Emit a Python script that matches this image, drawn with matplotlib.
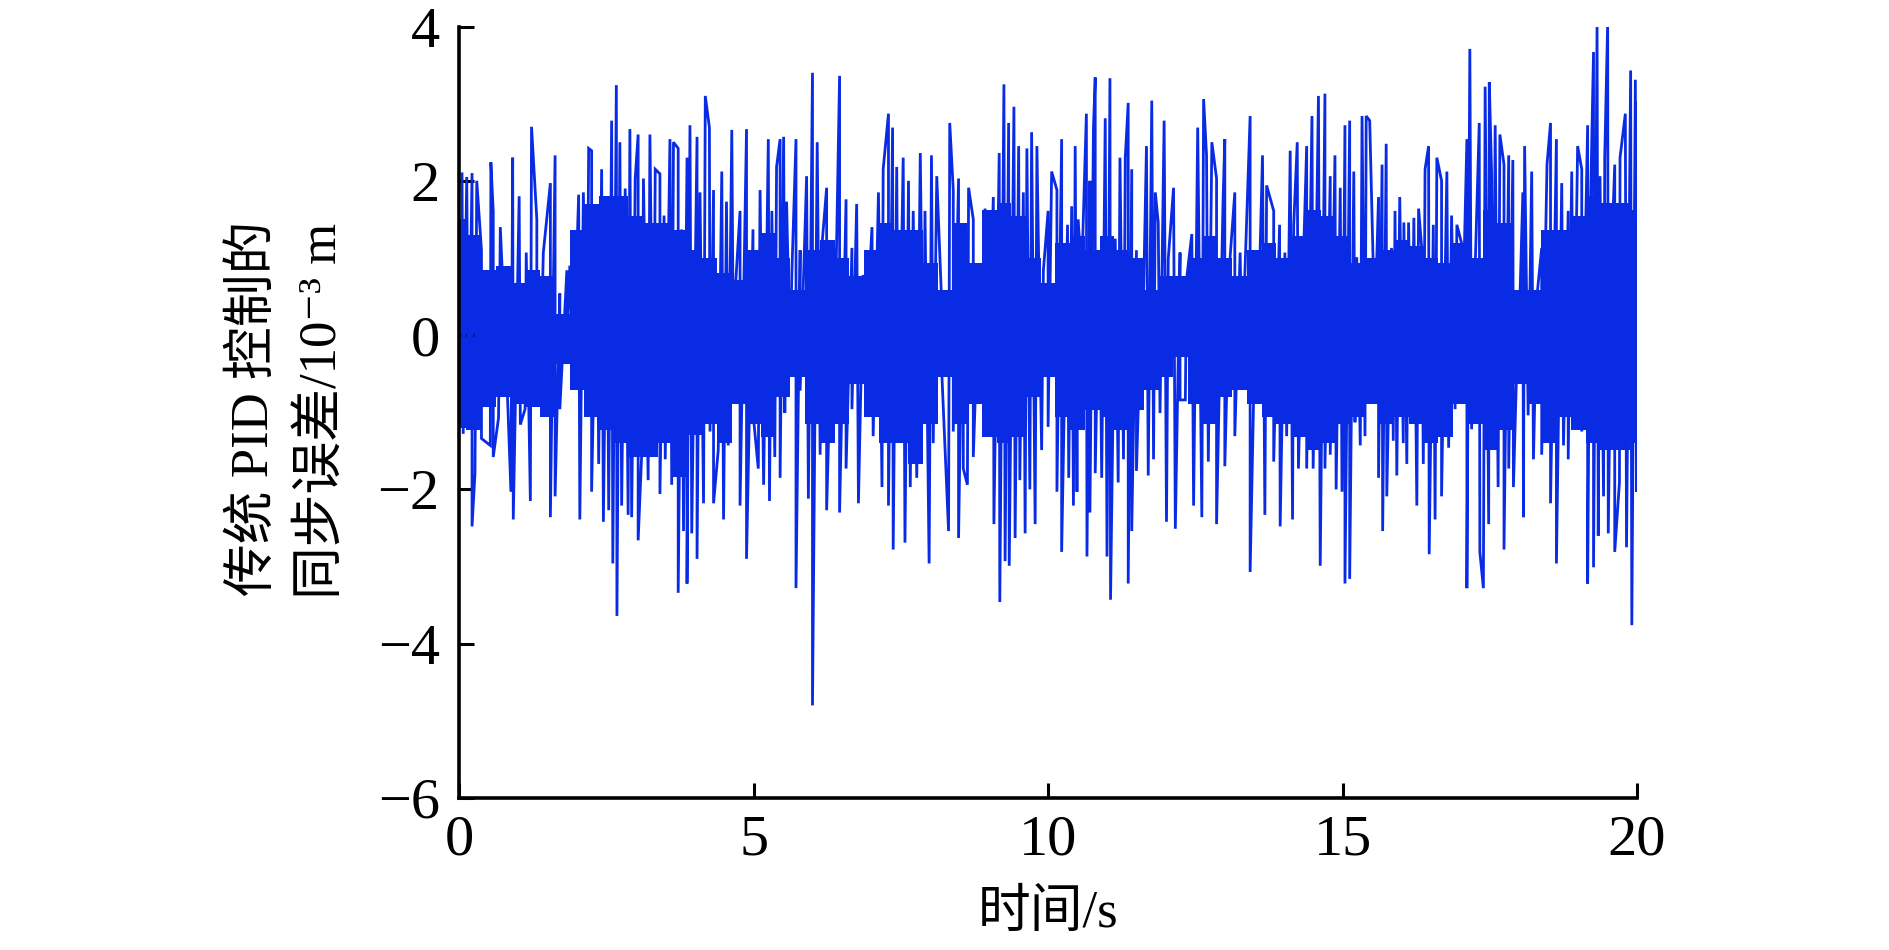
import numpy as np
import matplotlib
matplotlib.use("Agg")
import matplotlib.pyplot as plt

plt.rcParams['font.family'] = ['Liberation Serif', 'Noto Sans CJK SC', 'DejaVu Sans']

# 上侧尖峰 (时间 s, 误差 1e-3 m)
hi_t = [0.05, 0.13, 0.22, 0.30, 0.38, 0.54, 0.58, 0.70, 0.91, 1.02, 1.14, 1.23, 1.32, 1.43, 1.55, 1.63,
        1.71, 1.83, 1.88, 2.03, 2.11, 2.20, 2.25, 2.34, 2.42, 2.51, 2.59, 2.67, 2.73, 2.82, 2.90, 2.99,
        3.04, 3.13, 3.24, 3.33, 3.41, 3.48, 3.58, 3.64, 3.72, 3.78, 3.87, 3.92, 4.04, 4.09, 4.18, 4.25,
        4.32, 4.46, 4.54, 4.63, 4.69, 4.77, 4.88,
        4.99, 5.11, 5.25, 5.31, 5.39, 5.45, 5.51, 5.56, 5.65, 5.72, 5.79, 5.90, 6.00, 6.08, 6.16, 6.24,
        6.36, 6.46, 6.57, 6.67, 6.75, 6.86, 7.01, 7.12, 7.20, 7.29, 7.36, 7.43, 7.54, 7.63, 7.71, 7.83,
        7.91, 8.02, 8.11, 8.19, 8.33, 8.39, 8.48, 8.56, 8.65, 8.73, 8.83, 8.93, 9.07, 9.17, 9.25, 9.33,
        9.42, 9.50, 9.58, 9.64, 9.72, 9.81, 9.92, 10.00,
        10.06, 10.15, 10.23, 10.33, 10.40, 10.46, 10.51, 10.57, 10.65, 10.71, 10.77, 10.80, 10.87, 10.97,
        11.05, 11.14, 11.22, 11.31, 11.36, 11.42, 11.50, 11.59, 11.67, 11.76, 11.82, 11.87, 11.97, 12.04,
        12.13, 12.24, 12.35, 12.44, 12.54, 12.64, 12.69, 12.78, 12.86, 12.97, 13.00, 13.09, 13.17, 13.26,
        13.34, 13.43, 13.54, 13.64, 13.71, 13.83, 13.93, 14.02, 14.11, 14.17, 14.23, 14.34, 14.39, 14.48,
        14.59, 14.70, 14.79, 14.87, 14.96, 15.04, 15.12,
        15.19, 15.24, 15.33, 15.40, 15.46, 15.52, 15.61, 15.67, 15.74, 15.83, 15.89, 15.97, 16.04, 16.12,
        16.21, 16.29, 16.34, 16.40, 16.46, 16.54, 16.60, 16.68, 16.77, 16.85, 16.94, 17.02, 17.11, 17.16,
        17.24, 17.32, 17.42, 17.49, 17.53, 17.59, 17.67, 17.74, 17.82, 17.89, 17.98, 18.06, 18.09, 18.21,
        18.30, 18.38, 18.47, 18.53, 18.63, 18.72, 18.83, 18.89, 18.99, 19.06, 19.16, 19.20, 19.26, 19.32,
        19.37, 19.45, 19.50, 19.57, 19.62, 19.71, 19.80, 19.89, 19.97, 20.00]
hi_v = [2.09, 2.05, 2.10, 2.00, 1.10, 2.24, 1.60, 1.40, 2.30, 1.80, 1.07, 2.70, 1.50, 1.07, 1.97, 2.33,
        0.54, 0.84, 0.90, 1.82, 1.85, 2.42, 2.39, 1.50, 2.15, 1.50, 2.78, 3.24, 2.50, 1.90, 2.67, 2.03,
        2.60, 2.03, 2.60, 2.15, 2.09, 1.55, 2.54, 2.50, 2.42, 1.37, 2.30, 2.72, 2.57, 1.85, 3.10, 2.69,
        1.88, 2.12, 1.73, 2.66, 0.60, 1.61, 2.67,
        1.37, 1.88, 2.54, 1.61, 2.18, 2.54, 2.57, 1.73, 0.81, 2.54, 1.10, 2.06, 3.40, 2.50, 1.16, 1.91,
        1.13, 3.36, 1.76, 1.13, 1.70, 0.78, 1.40, 1.85, 2.15, 2.87, 2.69, 2.18, 2.30, 2.00, 1.61, 2.36,
        1.61, 2.33, 2.06, 0.48, 2.75, 1.88, 2.03, 1.43, 1.91, 1.50, 0.72, 1.64, 1.79, 2.36, 3.25, 2.75,
        2.96, 2.45, 1.85, 2.42, 2.63, 2.45, 0.84, 1.61,
        2.12, 1.88, 2.54, 1.43, 1.67, 2.45, 1.50, 0.78, 2.87, 2.00, 2.69, 3.34, 1.01, 2.81,
        3.33, 1.25, 2.30, 2.30, 3.01, 2.15, 1.10, 0.60, 2.45, 3.04, 1.85, 1.46, 2.78, 0.99,
        1.91, 1.07, 0.72, 1.31, 2.69, 3.06, 2.33, 2.50, 2.03, 1.73, 2.54, 1.01, 1.85, 1.07,
        0.78, 2.84, 1.10, 2.33, 1.94, 1.61, 1.43, 1.07, 2.39, 1.43, 2.50, 1.13, 2.45, 2.84,
        3.10, 3.13, 2.06, 2.33, 1.91, 2.72, 2.78,
        2.12, 1.01, 2.84, 2.84, 2.78, 0.90, 1.79, 2.21, 2.48, 1.13, 1.61, 1.79, 1.46, 1.46,
        1.52, 1.64, 1.16, 2.15, 2.45, 1.43, 2.30, 2.00, 2.12, 1.55, 1.43, 1.19, 2.54, 3.71,
        0.60, 2.75, 3.22, 3.28, 2.09, 2.72, 2.60, 2.21, 2.33, 2.27, 0.24, 1.85, 2.45, 2.12,
        0.51, 1.13, 2.21, 2.75, 2.54, 1.97, 1.61, 2.12, 2.45, 2.15, 2.72, 1.37, 3.67, 4.00,
        2.06, 2.30, 4.05, 1.13, 2.21, 2.30, 2.87, 3.43, 3.31, 3.01]

# 下侧尖峰
lo_t = [0.07, 0.16, 0.22, 0.27, 0.38, 0.53, 0.58, 0.67, 0.81, 0.88, 0.92, 1.04, 1.12, 1.21, 1.32, 1.38,
        1.55, 1.63, 1.71, 1.83, 1.94, 2.05, 2.17, 2.25, 2.37, 2.45, 2.54, 2.61, 2.68, 2.76, 2.87, 2.93,
        3.04, 3.10, 3.21, 3.30, 3.41, 3.50, 3.61, 3.72, 3.81, 3.87, 3.95, 4.04, 4.15, 4.26, 4.32, 4.40,
        4.49, 4.57, 4.66, 4.77, 4.88,
        4.99, 5.08, 5.17, 5.27, 5.36, 5.45, 5.53, 5.62, 5.72, 5.79, 5.93, 6.00, 6.13, 6.24, 6.36, 6.46,
        6.57, 6.67, 6.78, 6.89, 7.03, 7.18, 7.29, 7.37, 7.46, 7.57, 7.66, 7.77, 7.88, 7.98, 8.05, 8.19,
        8.31, 8.39, 8.48, 8.56, 8.63, 8.73, 8.83, 8.96, 9.08, 9.18, 9.27, 9.34, 9.44, 9.52, 9.61, 9.69,
        9.78, 9.89, 10.00,
        10.15, 10.23, 10.35, 10.43, 10.49, 10.66, 10.71, 10.80, 10.91, 11.00, 11.06, 11.19, 11.28, 11.36,
        11.42, 11.50, 11.59, 11.70, 11.79, 11.90, 12.01, 12.16, 12.24, 12.33, 12.47, 12.61, 12.72, 12.86,
        13.00, 13.17, 13.29, 13.43, 13.54, 13.68, 13.83, 13.94, 14.05, 14.15, 14.25, 14.39, 14.50, 14.62,
        14.70, 14.79, 14.89, 14.99, 15.04, 15.12,
        15.21, 15.30, 15.38, 15.52, 15.61, 15.68, 15.75, 15.86, 15.92, 16.03, 16.09, 16.17, 16.26, 16.37,
        16.47, 16.57, 16.68, 16.80, 16.91, 17.02, 17.11, 17.19, 17.33, 17.39, 17.48, 17.56, 17.64, 17.74,
        17.82, 17.90, 17.98, 18.07, 18.15, 18.24, 18.38, 18.53, 18.63, 18.75, 18.83, 18.92, 19.06, 19.16,
        19.26, 19.34, 19.43, 19.51, 19.62, 19.70, 19.82, 19.91, 19.99]
lo_v = [-1.28, -1.07, -2.48, -1.79, -1.34, -1.43, -1.58, -1.07, -0.54, -2.03, -2.39, -1.16, -0.96, -2.15, -0.87, -0.69,
        -2.36, -2.09, -0.96, -0.30, -0.42, -2.39, -0.96, -2.03, -1.67, -2.42, -2.27, -2.96, -3.64, -2.21, -2.33, -2.36,
        -2.66, -1.55, -1.88, -1.49, -2.06, -1.61, -1.94, -3.34, -2.54, -3.22, -2.57, -2.90, -2.18, -1.25, -2.18, -1.49,
        -2.39, -1.43, -0.72, -2.21, -2.90,
        -1.01, -1.73, -1.94, -2.15, -1.58, -1.85, -1.01, -0.30, -3.28, -0.72, -2.12, -4.80, -1.55, -2.27, -0.90, -2.30,
        -1.73, -0.96, -2.18, -0.36, -1.31, -1.97, -2.21, -2.78, -1.37, -2.69, -1.97, -1.85, -0.90, -2.96, -1.40, -0.39,
        -2.54, -1.25, -2.63, -1.73, -1.94, -1.58, -0.84, -1.07, -2.45, -3.46, -2.93, -2.99, -2.63, -1.88, -2.57, -2.00,
        -2.45, -1.49, -1.19,
        -2.03, -2.81, -1.85, -2.21, -2.03, -2.87, -2.30, -1.79, -1.85, -2.87, -3.43, -1.91, -1.61, -3.22,
        -2.54, -1.76, -0.66, -1.82, -1.61, -1.01, -2.42, -2.51, -0.84, -0.84, -2.21, -2.36, -1.64, -2.45,
        -1.70, -1.31, -0.24, -3.07, -0.72, -2.33, -1.64, -2.48, -1.31, -2.39, -1.73, -1.73, -1.73, -2.99,
        -1.73, -1.55, -2.00, -2.03, -3.22, -3.16,
        -1.13, -1.43, -1.31, -0.60, -1.85, -2.54, -2.09, -1.37, -1.82, -1.40, -1.67, -0.96, -2.21, -1.67,
        -2.84, -2.39, -2.09, -1.46, -0.96, -0.42, -3.28, -1.22, -2.81, -3.28, -2.45, -1.25, -1.97, -2.78,
        -1.73, -1.97, -0.36, -2.36, -1.04, -1.61, -1.55, -2.18, -2.96, -1.43, -1.61, -1.16, -1.25, -3.22,
        -3.01, -2.60, -2.09, -2.57, -2.81, -1.91, -2.75, -3.76, -2.03]

# 密集振荡区的上下包络，每 0.25 s 读一次
core_t = np.linspace(0, 20, 81)
core_hi = [1.50, 1.30, 0.84, 0.89, 0.67, 0.84, 0.76, 0.28, 1.36, 1.70, 1.80, 1.80,
           1.54, 1.45, 1.45, 1.36, 1.10, 1.00, 0.80, 0.71, 1.10, 1.32, 1.00, 0.58,
           1.10, 1.23, 1.00, 0.76, 1.10, 1.45, 1.36, 1.36, 0.93, 0.58, 1.45, 0.93,
           1.62, 1.71, 1.54, 1.00, 0.67, 1.19, 1.28, 1.10, 1.28, 1.10, 1.00, 0.58,
           0.76, 0.76, 1.00, 1.28, 1.00, 0.76, 1.10, 1.19, 1.00, 1.28, 1.62, 1.54,
           1.28, 0.93, 1.00, 1.10, 1.23, 1.15, 1.00, 0.93, 1.19, 1.00, 1.62, 1.45,
           0.58, 0.58, 1.36, 1.36, 1.54, 1.80, 1.71, 1.71, 1.62]
core_lo = [-1.20, -1.23, -0.93, -0.80, -0.89, -0.93, -1.06, -0.37, -0.71, -1.06, -1.23, -1.40,
           -1.58, -1.58, -1.40, -1.84, -1.30, -1.15, -1.40, -0.89, -1.15, -1.32, -0.80, -0.54,
           -1.15, -1.40, -1.15, -0.63, -1.06, -1.40, -1.40, -1.67, -1.15, -0.54, -1.15, -0.89,
           -1.32, -1.40, -1.32, -0.80, -0.54, -1.06, -1.23, -0.97, -1.06, -1.23, -0.97, -0.71,
           -0.54, -0.28, -0.89, -1.15, -0.80, -0.71, -0.89, -1.06, -1.15, -1.32, -1.49, -1.40,
           -1.15, -1.06, -0.89, -1.15, -1.06, -1.15, -1.40, -1.32, -0.89, -1.15, -1.49, -1.23,
           -0.63, -0.89, -1.40, -1.06, -1.23, -1.40, -1.49, -1.49, -1.40]

x_ticks = [0, 5, 10, 15, 20]
y_ticks = [-6, -4, -2, 0, 2, 4]

# 合并上下尖峰，按时间排序得到误差曲线
t_all = np.array(hi_t + lo_t)
v_all = np.array(hi_v + lo_v)
order = np.argsort(t_all, kind='stable')
t_all = t_all[order]
v_all = v_all[order]

blue = '#0a2be4'

fig = plt.figure(figsize=(18.9, 9.5), dpi=100)
ax = fig.add_axes([0.2429, 0.16, 0.6233, 0.8121])
ax.fill_between(core_t, core_lo, core_hi, step='mid', color=blue, lw=0)
ax.plot(t_all, v_all, color=blue, lw=2.0, solid_joinstyle='miter')

ax.set_xlim(0, 20)
ax.set_ylim(-6, 4)
ax.set_xticks(x_ticks)
ax.set_yticks(y_ticks)
ax.spines['top'].set_visible(False)
ax.spines['right'].set_visible(False)
for s in ['left', 'bottom']:
    ax.spines[s].set_linewidth(2.6)
ax.tick_params(direction='in', length=10.5, width=2.2, labelsize=42)
ax.tick_params(axis='x', pad=12)
ax.tick_params(axis='y', pad=14)

fig.text(0.5545, 0.038, '时间/s', ha='center', va='center', fontsize=38)
fig.text(0.1344, 0.57, '传统 PID 控制的', rotation=90, ha='center', va='center', fontsize=38)
fig.text(0.1709, 0.567, '同步误差/10⁻³ m', rotation=90, ha='center', va='center', fontsize=38)

fig.savefig('out.png', dpi=100)
